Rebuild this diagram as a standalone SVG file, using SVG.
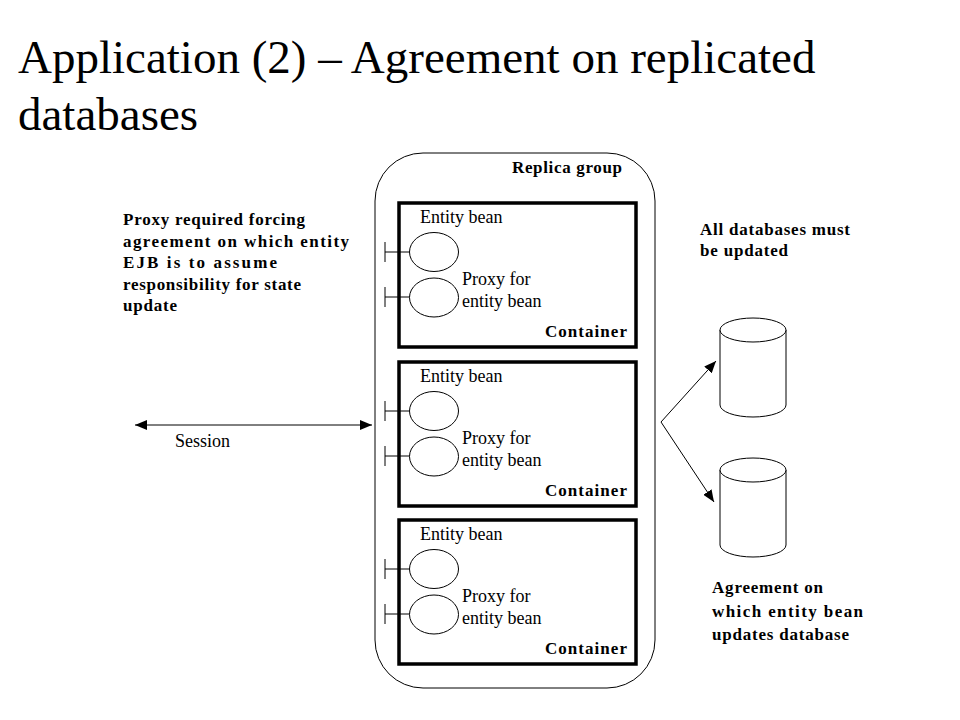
<svg xmlns="http://www.w3.org/2000/svg" width="960" height="720" viewBox="0 0 960 720">
<style>
.t{font-family:"Liberation Serif","Times New Roman",serif;fill:#000}
.r{font-size:18px}
.b{font-size:17px;font-weight:bold}
.thin{fill:none;stroke:#000;stroke-width:1}
.cont{fill:none;stroke:#000;stroke-width:3.5}
.ell{fill:#fff;stroke:#000;stroke-width:1}
</style>
<defs>
<marker id="ah" viewBox="0 0 12 10" refX="12" refY="5" markerWidth="12" markerHeight="10" markerUnits="userSpaceOnUse" orient="auto-start-reverse">
<path d="M0,0 L12,5 L0,10 Z" fill="#000"/>
</marker>
<g id="cbody">
<text class="t r" x="21" y="20">Entity bean</text>
<line class="thin" x1="-14" y1="39" x2="-14" y2="59"/>
<line class="thin" x1="-14" y1="49" x2="11" y2="49"/>
<ellipse class="ell" cx="35" cy="49" rx="24.5" ry="19.5"/>
<line class="thin" x1="-14" y1="84" x2="-14" y2="104"/>
<line class="thin" x1="-14" y1="94" x2="11" y2="94"/>
<ellipse class="ell" cx="35" cy="94.5" rx="24.5" ry="19.5"/>
<text class="t r" x="63" y="82">Proxy for</text>
<text class="t r" x="63" y="104">entity bean</text>
<rect class="cont" x="0" y="0" width="237" height="144"/>
<text class="t b" x="228" y="134" text-anchor="end" textLength="82">Container</text>
</g>
</defs>
<g id="title">
<text class="t" x="18" y="73" font-size="47">Application (2) – Agreement on replicated</text>
<text class="t" x="18" y="130" font-size="47">databases</text>
</g>
<g id="replica-group">
<rect class="thin" x="375" y="153" width="280" height="535" rx="48" ry="48"/>
<text class="t b" x="512" y="173" textLength="110">Replica group</text>
</g>
<g id="container1"><use href="#cbody" x="399" y="203"/></g>
<g id="container2"><use href="#cbody" x="399" y="362"/></g>
<g id="container3"><use href="#cbody" x="399" y="520"/></g>
<g id="note-proxy">
<text class="t b" x="123" y="225" textLength="182">Proxy required forcing</text>
<text class="t b" x="123" y="247" textLength="226">agreement on which entity</text>
<text class="t b" x="123" y="268" textLength="154">EJB is to assume</text>
<text class="t b" x="123" y="290" textLength="178">responsibility for state</text>
<text class="t b" x="123" y="311" textLength="54">update</text>
</g>
<g id="note-all">
<text class="t b" x="700" y="235" textLength="150">All databases must</text>
<text class="t b" x="700" y="256" textLength="88">be updated</text>
</g>
<g id="note-agreement">
<text class="t b" x="712" y="593" textLength="111">Agreement on</text>
<text class="t b" x="712" y="617" textLength="151">which entity bean</text>
<text class="t b" x="712" y="640" textLength="137">updates database</text>
</g>
<g id="db1">
<path class="thin" d="M720,330 L720,405 A33,12 0 0 0 786,405 L786,330" fill="#fff"/>
<ellipse class="ell" cx="753" cy="330" rx="33" ry="12"/>
</g>
<g id="db2">
<path class="thin" d="M720,470 L720,545 A33,12 0 0 0 786,545 L786,470" fill="#fff"/>
<ellipse class="ell" cx="753" cy="470" rx="33" ry="12"/>
</g>
<g id="connectors">
<line class="thin" x1="135" y1="425" x2="372" y2="425" marker-start="url(#ah)" marker-end="url(#ah)"/>
<text class="t r" x="175" y="447">Session</text>
<line class="thin" x1="661" y1="422" x2="716" y2="361" marker-end="url(#ah)"/>
<line class="thin" x1="661" y1="422" x2="714" y2="502" marker-end="url(#ah)"/>
</g>
</svg>
